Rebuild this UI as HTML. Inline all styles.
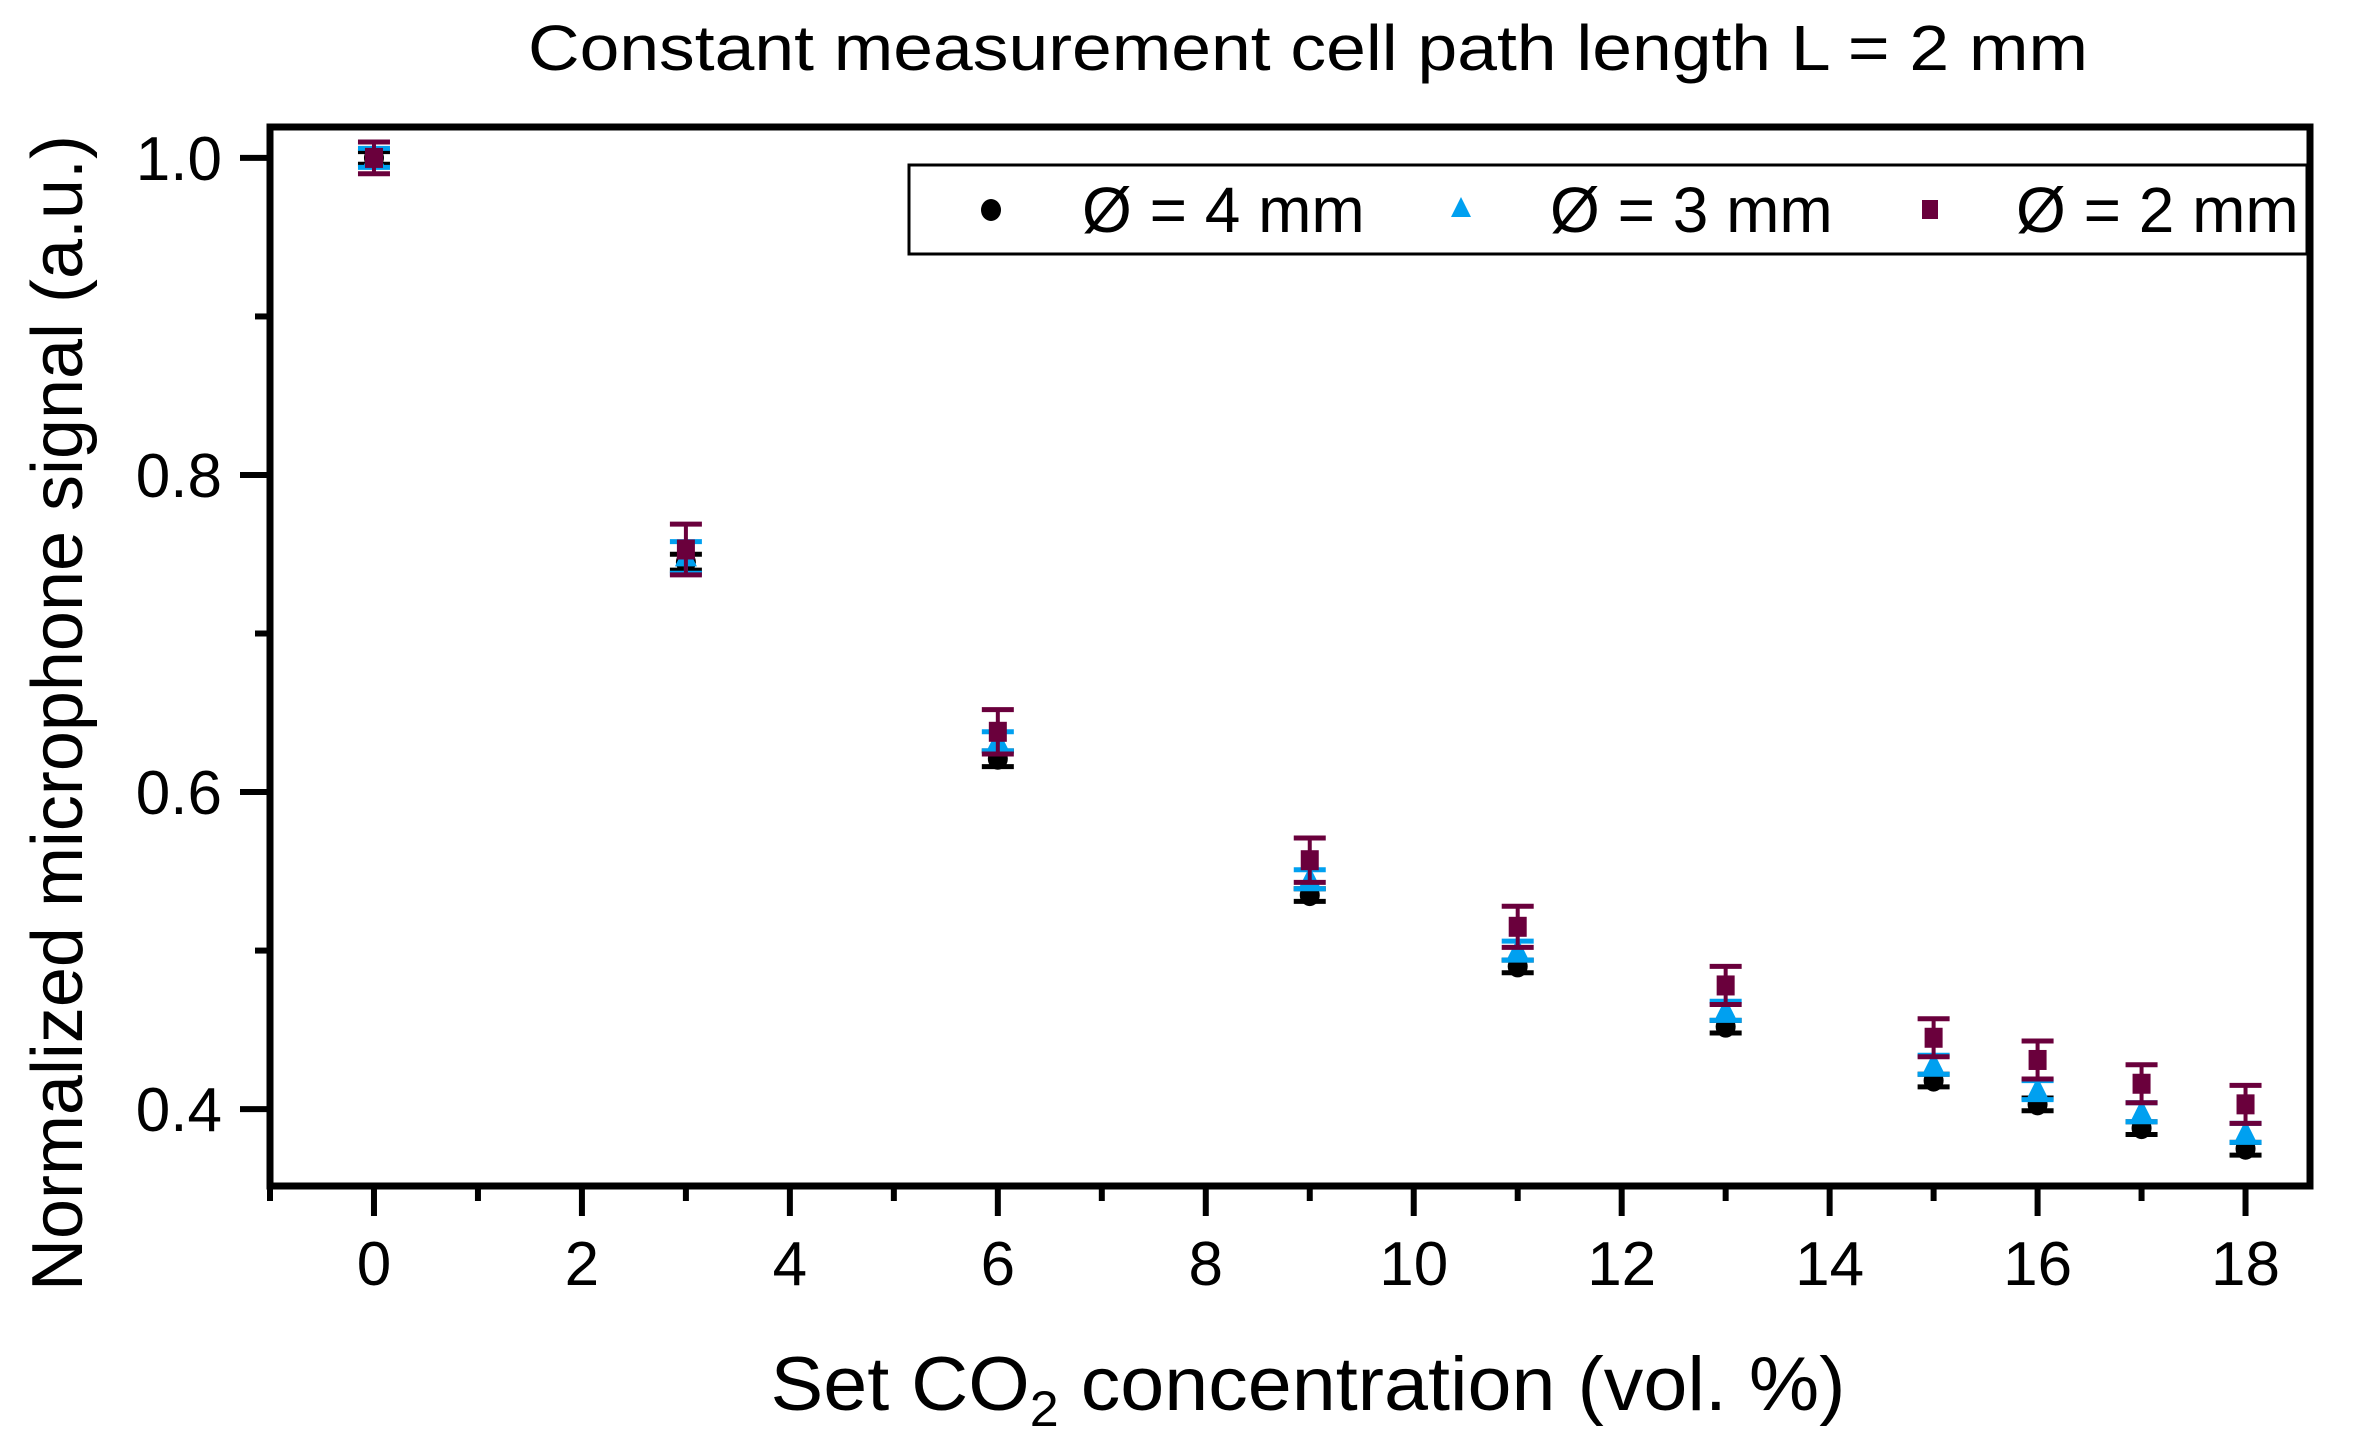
<!DOCTYPE html>
<html><head><meta charset="utf-8"><style>
html,body{margin:0;padding:0;background:#fff;}
svg{display:block;font-family:"Liberation Sans",Arial,sans-serif;}
</style></head><body>
<svg id="chart" width="2374" height="1449" viewBox="0 0 2374 1449">
<g id="axes"></g><g id="marks"></g>
<text x="1308" y="70" font-size="64" text-anchor="middle" textLength="1560" lengthAdjust="spacingAndGlyphs">Constant measurement cell path length L = 2 mm</text>
<text x="1308" y="1410" font-size="76" text-anchor="middle" textLength="1075" lengthAdjust="spacingAndGlyphs">Set CO<tspan font-size="50" dy="16">2</tspan><tspan dy="-16"> concentration (vol. %)</tspan></text>
<text transform="translate(82,713) rotate(-90)" font-size="72" text-anchor="middle" textLength="1156" lengthAdjust="spacingAndGlyphs">Normalized microphone signal (a.u.)</text>
<g>
<rect x="909" y="165" width="1398" height="89" fill="#fff" stroke="#000" stroke-width="3"/>
<ellipse cx="991" cy="210" rx="10" ry="11" fill="#000"/>
<text x="1082" y="232" font-size="64">Ø = 4 mm</text>
<polygon points="1461,197 1451,217 1471,217" fill="#00a0f0"/>
<text x="1550" y="232" font-size="64">Ø = 3 mm</text>
<rect x="1922" y="200" width="16" height="19" fill="#6a003c"/>
<text x="2016" y="232" font-size="64">Ø = 2 mm</text>
</g>
</svg>
<script>
const xCats = [0,3,6,9,11,13,15,16,17,18];
const y4mm = [1.0,0.745,0.621,0.535,0.490,0.452,0.418,0.403,0.388,0.375];
const e4mm = [0.004,0.005,0.005,0.004,0.004,0.004,0.004,0.004,0.004,0.004];
const y3mm = [1.0,0.748,0.632,0.545,0.500,0.462,0.428,0.412,0.398,0.385];
const e3mm = [0.006,0.010,0.006,0.006,0.006,0.006,0.006,0.006,0.006,0.006];
const y2mm = [1.0,0.753,0.638,0.557,0.515,0.478,0.445,0.431,0.416,0.403];
const e2mm = [0.010,0.016,0.014,0.014,0.013,0.012,0.012,0.012,0.012,0.012];
const xTickLabels = ["0","2","4","6","8","10","12","14","16","18"];
const yTickLabels = ["0.4","0.6","0.8","1.0"];

const NS="http://www.w3.org/2000/svg";
const L=270,R=2310,T=127,B=1186;
const xMin=-1,xMax=18.62,yMin=0.3515,yMax=1.0195;
const sx=v=>L+(v-xMin)/(xMax-xMin)*(R-L);
const sy=v=>B-(v-yMin)/(yMax-yMin)*(B-T);
function mk(tag,attrs,parent){const e=document.createElementNS(NS,tag);for(const k in attrs)e.setAttribute(k,attrs[k]);parent.appendChild(e);return e;}
const axes=document.getElementById('axes'),marks=document.getElementById('marks');

const frame=mk('rect',{x:L,y:T,width:R-L,height:B-T,fill:'none',stroke:'#000','stroke-width':7},axes);


for(let v=-1;v<=18;v++){
  const major=v%2===0;
  const t=mk('line',{x1:sx(v),x2:sx(v),y1:B,y2:B+(major?30:15),stroke:'#000','stroke-width':6},axes);
  
  
}
xTickLabels.forEach(s=>{
  const t=mk('text',{x:sx(+s),y:1285,'font-size':62,'text-anchor':'middle'},axes);t.textContent=s;
  
  
});
for(let i=0;i<7;i++){
  const v=0.4+i*0.1;const major=i%2===0;
  const t=mk('line',{x1:L-(major?30:15),x2:L,y1:sy(v),y2:sy(v),stroke:'#000','stroke-width':6},axes);
  
  
}
yTickLabels.forEach(s=>{
  const t=mk('text',{x:222,y:sy(+s)+22,'font-size':62,'text-anchor':'end'},axes);t.textContent=s;
  
  
});

function series(ys,es,color,shape,name){
  xCats.forEach((xv,i)=>{
    const cx=sx(xv),cy=sy(ys[i]),e=es[i];
    const g=mk('g',{},marks);
    
    
    const y1=sy(ys[i]+e),y2=sy(ys[i]-e);
    mk('line',{x1:cx,x2:cx,y1:y1,y2:y2,stroke:color,'stroke-width':4},g);
    mk('line',{x1:cx-16,x2:cx+16,y1:y1,y2:y1,stroke:color,'stroke-width':5},g);
    mk('line',{x1:cx-16,x2:cx+16,y1:y2,y2:y2,stroke:color,'stroke-width':5},g);
    if(shape==='c')mk('ellipse',{cx:cx,cy:cy,rx:10,ry:11,fill:color},g);
    else if(shape==='t')mk('polygon',{points:`${cx},${cy-13} ${cx-11},${cy+9} ${cx+11},${cy+9}`,fill:color},g);
    else mk('rect',{x:cx-9,y:cy-10,width:18,height:20,fill:color},g);
  });
}
series(y4mm,e4mm,'#000','c','series-4mm');
series(y3mm,e3mm,'#00a0f0','t','series-3mm');
series(y2mm,e2mm,'#6a003c','s','series-2mm');
</script>
</body></html>
